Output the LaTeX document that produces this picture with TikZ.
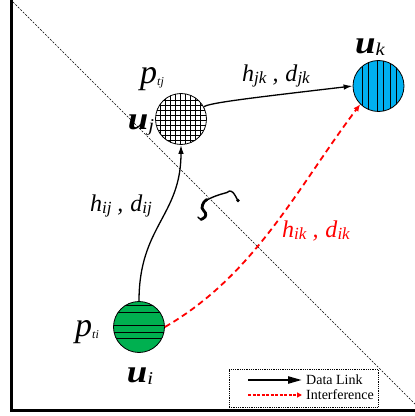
\documentclass[tikz,border=0pt]{standalone}
\usepackage{fontspec}
\setmainfont{Liberation Serif}
\newfontfamily\wideserif[FakeStretch=1.15]{Liberation Serif}
\usetikzlibrary{arrows.meta}
\definecolor{ublue}{HTML}{00B0F0}
\definecolor{ugreen}{HTML}{00B050}
\newcommand\sbs[2][17]{\raisebox{-2pt}{\fontsize{#1}{#1}\selectfont #2}}
\newcommand\ulab[1]{{\wideserif\fontsize{32}{32}\selectfont\bfseries u\sbs[18]{\mdseries #1}}}
\newcommand\plab[1]{{\fontsize{34}{34}\selectfont p\sbs[12]{#1}}}
\newcommand\hdlab[1]{{\fontsize{24}{24}\selectfont h\sbs{#1}\hspace{6pt},\hspace{7pt}d\sbs{#1}}}
\begin{document}
\begin{tikzpicture}[x=1pt,y=1pt,
  link/.style={line width=1.3pt,-{Latex[length=9pt,width=5.5pt]}},
  intf/.style={red,line width=1.8pt,dash pattern=on 6pt off 4pt,-{Latex[length=7pt,width=6pt]}},
  unode/.style={circle,draw,line width=0.8pt,minimum size=51pt,inner sep=0pt},
  hatch/.style={line width=0.7pt},
  lbl/.style={inner sep=0pt,font=\itshape}]
\useasboundingbox (0,0) rectangle (415,416);
\begin{scope}
\clip (0,0) rectangle (415,416);
\draw[line width=0.7pt,dash pattern=on 2pt off 1.5pt] (13,414) -- (421,6);
\draw[line width=3pt] (420,5) -- (11.5,5) -- (11.5,417);
\draw[line width=1pt] (11.5,416) -- (420,416);
\end{scope}
% nodes
\node[unode,fill=white,path picture={
  \foreach \d in {-21,-16,...,20}{
    \draw[hatch] ([xshift=\d pt]path picture bounding box.south) -- ([xshift=\d pt]path picture bounding box.north);
    \draw[hatch] ([yshift=\d pt]path picture bounding box.west) -- ([yshift=\d pt]path picture bounding box.east);}}] (uj) at (181,297) {};
\node[unode,fill=ublue,path picture={
  \foreach \d in {-16,-10,-1,5,11.5,18}{
    \draw[hatch] ([xshift=\d pt]path picture bounding box.south) -- ([xshift=\d pt]path picture bounding box.north);}}] (uk) at (378.5,330) {};
\node[unode,fill=ugreen,path picture={
  \foreach \d in {22,15,2,-5,-11}{
    \draw[hatch] ([yshift=\d pt]path picture bounding box.west) -- ([yshift=\d pt]path picture bounding box.east);}}] (ui) at (139,89) {};
% labels
\node[lbl] (lpj) at (152,337) {\plab{tj}};
\node[lbl] (luj) at (141,291) {\ulab{j}};
\node[lbl] (luk) at (370,369) {\ulab{k}};
\node[lbl] (lpi) at (87,84) {\plab{ti}};
\node[lbl] (lui) at (140,40) {\ulab{i}};
\node[lbl] (ljk) at (276,340) {\hdlab{jk}};
\node[lbl] (lij) at (121,210) {\hdlab{ij}};
\node[lbl,text=red] (lik) at (316,185) {\hdlab{ik}};
% angle mark
\coordinate (sg) at (218,210);
\draw[line width=1.4pt,line cap=round] plot[smooth,tension=0.6] coordinates
  {(198,199) (201,196.5) (205,199) (205.5,203) (202,208) (204,214) (212,218.5) (220,221.5) (227,223.5) (229.5,225) (233,223.5) (236,219) (238,215)};
\draw[line width=2.8pt,line cap=round] plot[smooth,tension=0.6] coordinates
  {(201,196.5) (205,199) (205.5,203) (202,208) (204,214) (207,216.5)};
\fill (238,215.5) circle (1.9pt);
% connectors
\draw[link] (ui.north) .. controls (139,190) and (181,200) .. (uj.south);
\draw[link] (uj.28) .. controls (208,313) and (250,318) .. (uk.west);
\draw[intf] (ui.east) to[out=30,in=233,looseness=0.9] (uk.225);
% legend
\node[draw,densely dotted,line width=0.8pt,minimum width=149pt,minimum height=38pt,inner sep=0pt] (leg) at (303.5,28) {};
\coordinate (a1) at (248,36);
\coordinate (a2) at (302,36);
\coordinate (b1) at (248,21);
\coordinate (b2) at (302,21);
\draw[line width=2.3pt,-{Triangle[length=14pt,width=7pt]}] (a1) -- (a2);
\draw[red,line width=1.5pt,dash pattern=on 3pt off 1.5pt,-{Triangle[length=5pt,width=5pt]}] (b1) -- (b2);
\node[anchor=west,inner sep=0pt,font=\fontsize{14}{14}\selectfont] (t1) at (306,36) {Data Link};
\node[anchor=west,inner sep=0pt,font=\fontsize{14}{14}\selectfont] (t2) at (306,21) {Interference};
\end{tikzpicture}
\end{document}
